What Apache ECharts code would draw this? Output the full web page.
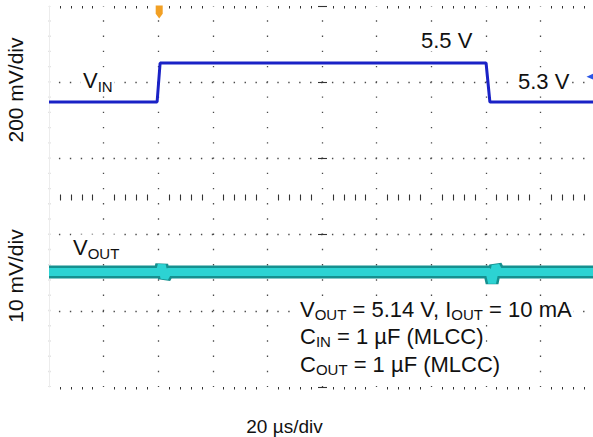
<!DOCTYPE html>
<html>
<head>
<meta charset="utf-8">
<script src="https://cdn.jsdelivr.net/npm/echarts@6/dist/echarts.min.js"></script>
<style>
html,body{margin:0;padding:0;background:#fff;}
#chart{width:593px;height:437px;}
</style>
</head>
<body>
<div id="chart"></div>
<script>
// ---- data read from the scope capture ----
// time in microseconds (20 us/div, 10 divisions)
var vinTime  = [0, 39.6, 40.7, 160.1, 161.5, 200];
var vinVolts = [5.30, 5.30, 5.50, 5.50, 5.30, 5.30];

var voutTime  = [0, 40.6, 41.3, 42.3, 43.5, 161.4, 162.3, 163.6, 164.8, 200];
var voutVolts = [5.140, 5.140, 5.1418, 5.1385, 5.140, 5.140, 5.1372, 5.1416, 5.140, 5.140];

var triggerTime = 40;
var labelVin = '5.5 V';
var labelVinLow = '5.3 V';
var xTitle = '20 µs/div';
var yTitleTop = '200 mV/div';
var yTitleBottom = '10 mV/div';

// ---- axis scaling (scope display) ----
var VIN_MIN = 3.8385, VIN_MAX = 5.7923;
var VOUT_MIN = 5.11051, VOUT_MAX = 5.20821;

function zip(a, b) { return a.map(function (v, i) { return [v, b[i]]; }); }

var FONT = "'Liberation Sans', Arial, Helvetica, sans-serif";
var INK = '#111';
var GRID_DOT = '#4a4a4a';

function makeRich(main) {
  return {
    m: { fontSize: main, fontFamily: FONT, lineHeight: 26, fill: INK, color: INK },
    s: { fontSize: 15, fontFamily: FONT, lineHeight: 15, verticalAlign: 'bottom', fill: INK, color: INK }
  };
}

function txt(x, y, text, opts) {
  opts = opts || {};
  var fs = opts.fontSize || 22;
  return {
    type: 'text', x: x, y: y, rotation: opts.rotation || 0, z: 100,
    style: {
      text: text, rich: makeRich(fs), fill: INK,
      fontSize: fs, fontFamily: FONT,
      align: opts.align || 'left', verticalAlign: 'middle',
      backgroundColor: opts.bg === false ? null : '#fff',
      padding: opts.bg === false ? 0 : [0, 2, 0, 2]
    }
  };
}

var chart = echarts.init(document.getElementById('chart'), null, { renderer: 'svg' });

var xBase = { type: 'value', min: 0, max: 200, interval: 20, axisLabel: { show: false }, axisLine: { show: false } };

var option = {
  animation: false,
  backgroundColor: '#fff',
  grid: { left: 49, top: 6, width: 546, height: 381, containLabel: false, outerBoundsMode: 'none' },
  xAxis: [
    Object.assign({}, xBase, {
      position: 'bottom',
      axisTick: { show: false },
      minorTick: { show: true, splitNumber: 5, length: 2.5, lineStyle: { color: '#333', width: 1 } },
      splitLine: { show: true, showMinLine: true, showMaxLine: false,
        lineStyle: { color: GRID_DOT, width: 1.3, type: [1.4, 13.84], dashOffset: 0.7 } }
    }),
    Object.assign({}, xBase, {
      position: 'top',
      axisTick: { show: false, inside: true },
      minorTick: { show: true, splitNumber: 5, length: 2.5, lineStyle: { color: '#333', width: 1 } },
      splitLine: { show: false }
    }),
    Object.assign({}, xBase, {
      position: 'bottom', offset: -186.5,
      axisTick: { show: false, inside: true },
      minorTick: { show: true, splitNumber: 5, length: 6, lineStyle: { color: '#333', width: 1.1 } },
      splitLine: { show: false }
    })
  ],
  yAxis: [
    { type: 'value', min: 0, max: 5, interval: 1, position: 'left', offset: -269,
      axisLabel: { show: false }, axisLine: { show: false },
      axisTick: { show: true, inside: true, length: 9, lineStyle: { color: '#333', width: 1.1 } },
      splitLine: { show: true, showMinLine: false, showMaxLine: false,
        lineStyle: { color: GRID_DOT, width: 1.3, type: [1.4, 9.52], dashOffset: 0.7 } } },
    { type: 'value', min: VIN_MIN, max: VIN_MAX, position: 'left',
      axisLabel: { show: false }, axisTick: { show: false }, splitLine: { show: false },
      axisLine: { show: true, lineStyle: { color: '#ececec', width: 1 } } },
    { type: 'value', min: VOUT_MIN, max: VOUT_MAX, position: 'left', show: false,
      splitLine: { show: false } }
  ],
  series: [
    { name: 'VOUT edge', type: 'line', xAxisIndex: 0, yAxisIndex: 2, data: zip(voutTime, voutVolts),
      showSymbol: false, symbol: 'none', lineStyle: { color: '#15908f', width: 13 }, z: 3 },
    { name: 'VOUT', type: 'line', xAxisIndex: 0, yAxisIndex: 2, data: zip(voutTime, voutVolts),
      showSymbol: false, symbol: 'none', lineStyle: { color: '#2cd3d3', width: 8 }, z: 4 },
    { name: 'VIN', type: 'line', xAxisIndex: 0, yAxisIndex: 1, data: zip(vinTime, vinVolts),
      showSymbol: false, symbol: 'none', lineStyle: { color: '#1a22c6', width: 3 }, z: 5,
      markPoint: {
        silent: true, label: { show: false },
        data: [
          { coord: [triggerTime, VIN_MAX], symbol: 'path://M0,0 L10,0 L10,9 L5,14 L0,9 Z',
            symbolSize: [7, 13], symbolOffset: [1, 6], itemStyle: { color: '#f2a024' } },
          { coord: [200, 5.43], symbol: 'triangle', symbolRotate: 90, symbolSize: [6, 7],
            symbolOffset: [-5, 0], itemStyle: { color: '#2a55e6' } }
        ]
      } }
  ],
  graphic: [
    txt(81, 80.5, '{m|V}{s|IN}'),
    txt(71, 247.5, '{m|V}{s|OUT}'),
    txt(419, 40.5, labelVin),
    txt(516, 81.5, labelVinLow),
    txt(298, 309, '{m|V}{s|OUT}{m| = 5.14 V, I}{s|OUT}{m| = 10 mA}'),
    txt(298, 336, '{m|C}{s|IN}{m| = 1 µF (MLCC)}'),
    txt(298, 364, '{m|C}{s|OUT}{m| = 1 µF (MLCC)}'),
    txt(284.5, 426, xTitle, { align: 'center', fontSize: 19, bg: false }),
    txt(15.5, 90, yTitleTop, { align: 'center', rotation: Math.PI / 2, fontSize: 21, bg: false }),
    txt(15.5, 276, yTitleBottom, { align: 'center', rotation: Math.PI / 2, fontSize: 21, bg: false })
  ]
};
chart.setOption(option);
</script>
</body>
</html>
